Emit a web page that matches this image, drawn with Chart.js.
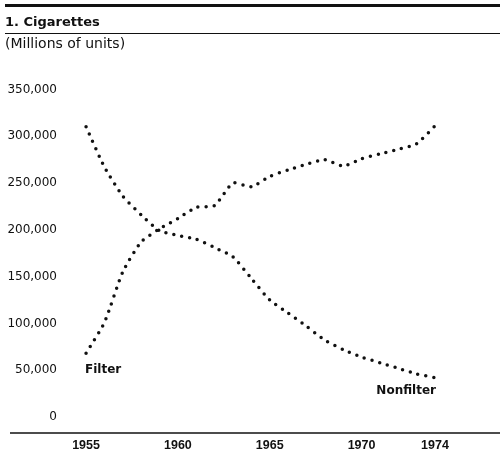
<!DOCTYPE html>
<html>
<head>
<meta charset="utf-8">
<script src="https://cdn.jsdelivr.net/npm/chart.js@4.4.1/dist/chart.umd.min.js"></script>
<style>
  html, body { margin: 0; padding: 0; background: #fff; }
  #wrap { width: 500px; height: 458px; }
</style>
</head>
<body>
<div id="wrap"><canvas id="cigChart"></canvas></div>
<script>
const years = [1955, 1956, 1957, 1958, 1959, 1960, 1961, 1962, 1963, 1964,
               1965, 1966, 1967, 1968, 1969, 1970, 1971, 1972, 1973, 1974];
const filter = [68000, 101000, 155000, 187000, 201000, 212000, 224000, 226000, 250000, 246000,
                257000, 264000, 270000, 275000, 268000, 276000, 281000, 286000, 292000, 311000];
const nonfilter = [310000, 267000, 236000, 216000, 199000, 194000, 190000, 181000, 171000, 148000,
                   125000, 111000, 97000, 82000, 72000, 64000, 58000, 52000, 46000, 42000];
const xTicks = [1955, 1960, 1965, 1970, 1974];
const yTicks = [0, 50000, 100000, 150000, 200000, 250000, 300000, 350000];

const ink = '#111';

function toPoints(values) {
    return years.map((yr, i) => ({ x: yr, y: values[i] }));
}

// rules above the title and the long baseline, plus the series labels
const decorations = {
    id: 'decorations',
    afterDraw(chart) {
        const ctx = chart.ctx;
        const area = chart.chartArea;
        ctx.save();
        ctx.strokeStyle = ink;
        ctx.lineWidth = 3;
        ctx.beginPath(); ctx.moveTo(5, 5.5); ctx.lineTo(chart.width, 5.5); ctx.stroke();
        ctx.lineWidth = 1;
        ctx.beginPath(); ctx.moveTo(5, 33.5); ctx.lineTo(chart.width, 33.5); ctx.stroke();
        ctx.lineWidth = 1.3;
        ctx.beginPath(); ctx.moveTo(10, area.bottom); ctx.lineTo(chart.width, area.bottom); ctx.stroke();

        const xs = chart.scales.x, ys = chart.scales.y;
        ctx.fillStyle = ink;
        ctx.font = 'bold 12px "DejaVu Sans"';
        ctx.textBaseline = 'middle';
        ctx.textAlign = 'left';
        ctx.fillText('Filter', xs.getPixelForValue(years[0]) - 1, ys.getPixelForValue(filter[0]) + 17);
        const last = years.length - 1;
        ctx.textAlign = 'right';
        ctx.fillText('Nonfilter', xs.getPixelForValue(years[last]) + 1, ys.getPixelForValue(nonfilter[last]) + 13);
        ctx.restore();
    }
};

const dotted = {
    borderColor: ink,
    borderWidth: 3.5,
    borderDash: [0, 8],
    borderCapStyle: 'round',
    pointRadius: 0,
    tension: 0.2,
    fill: false
};

new Chart(document.getElementById('cigChart'), {
    type: 'line',
    data: {
        datasets: [
            Object.assign({ label: 'Filter', data: toPoints(filter) }, dotted),
            Object.assign({ label: 'Nonfilter', data: toPoints(nonfilter) }, dotted)
        ]
    },
    options: {
        responsive: true,
        maintainAspectRatio: false,
        animation: false,
        layout: { padding: { left: 5, right: 0, top: 0, bottom: 0 } },
        plugins: {
            legend: { display: false },
            tooltip: { enabled: false },
            title: {
                display: true,
                text: '1. Cigarettes',
                align: 'start',
                color: ink,
                font: { family: '"DejaVu Sans"', size: 13, weight: 'bold' },
                padding: { top: 15, bottom: 3 }
            },
            subtitle: {
                display: true,
                text: '(Millions of units)',
                align: 'start',
                color: ink,
                font: { family: '"DejaVu Sans"', size: 14 },
                padding: { top: 2, bottom: 8 }
            }
        },
        scales: {
            x: {
                type: 'linear',
                min: 1953.69,
                max: 1977.54,
                grid: { display: false, drawTicks: false },
                border: { display: false },
                afterBuildTicks(scale) { scale.ticks = xTicks.map(v => ({ value: v })); },
                afterFit(scale) { scale.height = 25; },
                ticks: {
                    padding: 5,
                    color: ink,
                    font: { family: '"Liberation Sans"', size: 12.5, weight: 'bold' },
                    callback: v => String(v)
                }
            },
            y: {
                min: -17100,
                max: 381000,
                grid: { display: false, drawTicks: false },
                border: { display: false },
                afterBuildTicks(scale) { scale.ticks = yTicks.map(v => ({ value: v })); },
                afterFit(scale) { scale.width = 57; },
                ticks: {
                    padding: 5,
                    color: ink,
                    font: { family: '"DejaVu Sans"', size: 12 },
                    callback: v => v.toLocaleString('en-US')
                }
            }
        }
    },
    plugins: [decorations]
});
</script>
</body>
</html>
